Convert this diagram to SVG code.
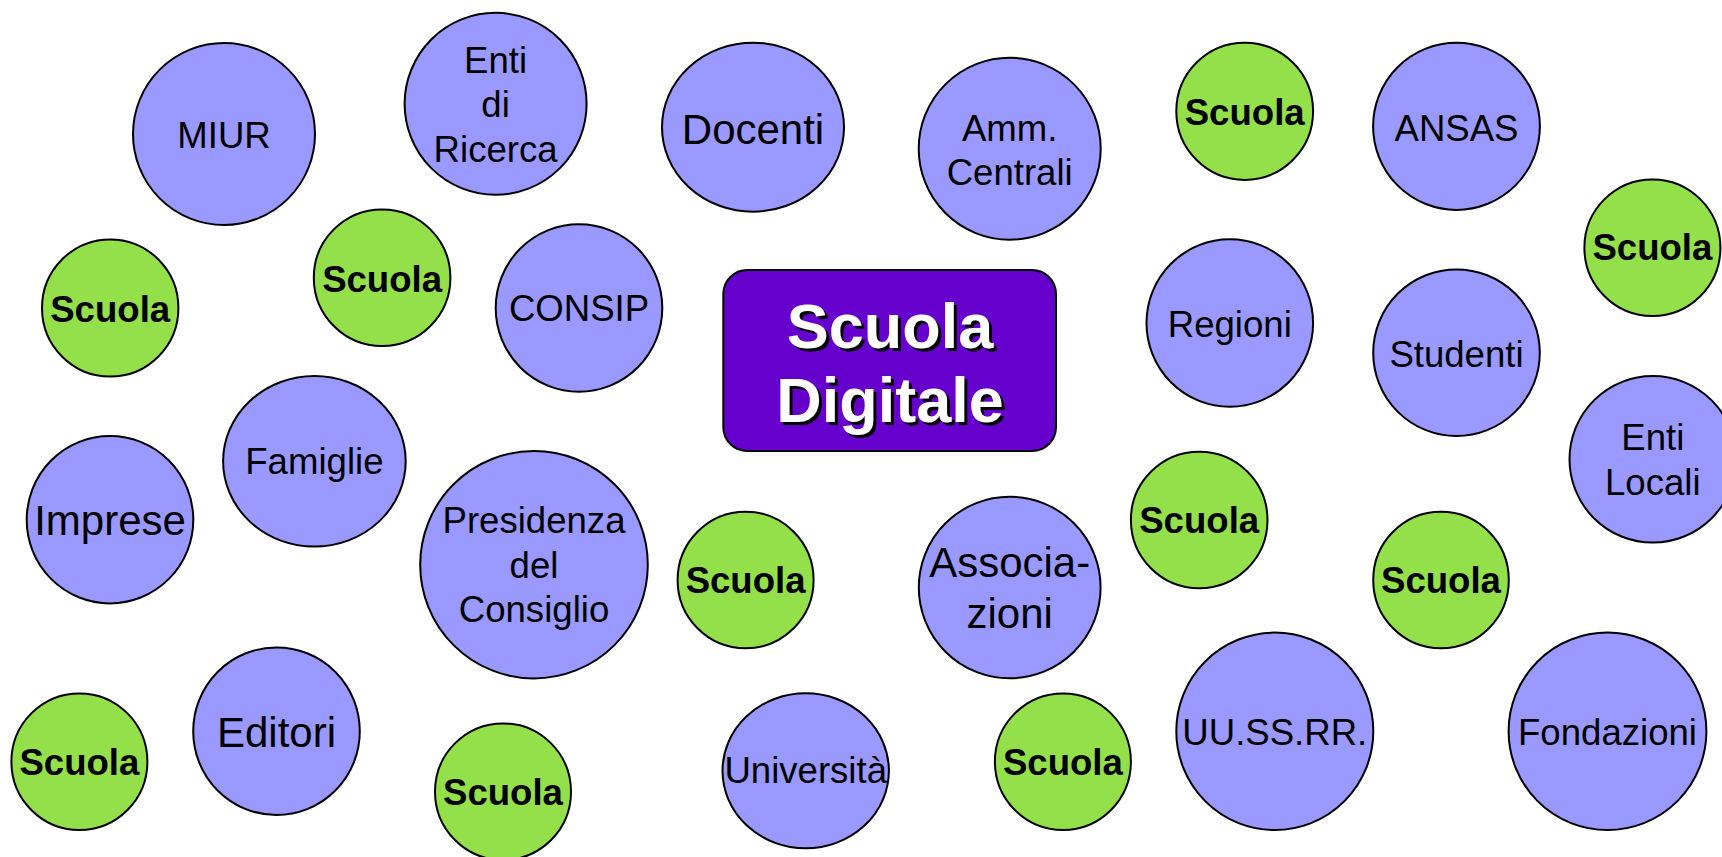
<svg xmlns="http://www.w3.org/2000/svg" width="1722" height="857" viewBox="0 0 1722 857">
<style>
.b{fill:#9999FF;stroke:#000;stroke-width:2}
.g{fill:#93E04A;stroke:#000;stroke-width:2}
.t{font-family:"Liberation Sans",Arial,sans-serif;font-size:36.6px;text-anchor:middle;fill:#000}
.big{font-size:42px}
.s{font-weight:bold}
.c{font-family:"Liberation Sans",Arial,sans-serif;font-size:63px;font-weight:bold;text-anchor:middle}
</style>
<rect width="1722" height="857" fill="#fff"/>
<g id="connectors"/>
<g id="miur"><ellipse class="b" cx="224" cy="134" rx="91" ry="91"/><text class="t" x="224" y="148.3">MIUR</text></g>
<g id="enti-ricerca"><ellipse class="b" cx="495.6" cy="103.8" rx="91" ry="91"/><text class="t" x="495.6" y="72.7">Enti</text><text class="t" x="495.6" y="117.3">di</text><text class="t" x="495.6" y="162.3">Ricerca</text></g>
<g id="docenti"><ellipse class="b" cx="753" cy="127.2" rx="91" ry="84.5"/><text class="t big" x="753" y="144">Docenti</text></g>
<g id="amm-centrali"><ellipse class="b" cx="1009.7" cy="148.7" rx="91" ry="91"/><text class="t" x="1009.7" y="140.7">Amm.</text><text class="t" x="1009.7" y="185">Centrali</text></g>
<g id="scuola-1"><ellipse class="g" cx="1244.7" cy="111.3" rx="68.4" ry="68.6"/><text class="t s" x="1244.7" y="125">Scuola</text></g>
<g id="ansas"><ellipse class="b" cx="1456.5" cy="126.3" rx="83.4" ry="83.6"/><text class="t" x="1456.5" y="140.7">ANSAS</text></g>
<g id="scuola-2"><ellipse class="g" cx="1652.4" cy="247.7" rx="68" ry="68.3"/><text class="t s" x="1652.4" y="260">Scuola</text></g>
<g id="scuola-3"><ellipse class="g" cx="110.2" cy="308" rx="68.2" ry="68.6"/><text class="t s" x="110.2" y="321.7">Scuola</text></g>
<g id="scuola-4"><ellipse class="g" cx="382.1" cy="277.7" rx="68.3" ry="68.3"/><text class="t s" x="382.1" y="291.7">Scuola</text></g>
<g id="consip"><ellipse class="b" cx="579" cy="308" rx="83.3" ry="83.7"/><text class="t" x="579" y="321">CONSIP</text></g>
<g id="scuola-digitale"><rect x="723.3" y="270" width="332.7" height="181" rx="24" ry="24" fill="#6600CC" stroke="#000" stroke-width="2"/><text class="c" x="893" y="350.7" fill="#000">Scuola</text><text class="c" x="893" y="425" fill="#000">Digitale</text><text class="c" x="890" y="347.7" fill="#fff">Scuola</text><text class="c" x="890" y="422" fill="#fff">Digitale</text></g>
<g id="regioni"><ellipse class="b" cx="1229.8" cy="323" rx="83.3" ry="83.7"/><text class="t" x="1229.8" y="336.7">Regioni</text></g>
<g id="studenti"><ellipse class="b" cx="1456.5" cy="352.7" rx="83.3" ry="83.3"/><text class="t" x="1456.5" y="366.7">Studenti</text></g>
<g id="enti-locali"><ellipse class="b" cx="1652.8" cy="459.3" rx="83.3" ry="83.3"/><text class="t" x="1652.8" y="450">Enti</text><text class="t" x="1652.8" y="495">Locali</text></g>
<g id="imprese"><ellipse class="b" cx="110" cy="519.7" rx="83.3" ry="83.7"/><text class="t big" x="110" y="535">Imprese</text></g>
<g id="famiglie"><ellipse class="b" cx="314.4" cy="461.3" rx="91.3" ry="85.3"/><text class="t" x="314.4" y="474">Famiglie</text></g>
<g id="presidenza"><ellipse class="b" cx="534" cy="564.7" rx="113.8" ry="113.7"/><text class="t" x="534" y="533.3">Presidenza</text><text class="t" x="534" y="578">del</text><text class="t" x="534" y="622">Consiglio</text></g>
<g id="scuola-5"><ellipse class="g" cx="745.6" cy="580" rx="68" ry="68.3"/><text class="t s" x="745.6" y="593.3">Scuola</text></g>
<g id="associazioni"><ellipse class="b" cx="1009.7" cy="587.5" rx="90.9" ry="90.8"/><text class="t big" x="1009.7" y="576.7">Associa-</text><text class="t big" x="1009.7" y="628.3">zioni</text></g>
<g id="scuola-6"><ellipse class="g" cx="1199.2" cy="520" rx="68.3" ry="68.3"/><text class="t s" x="1199.2" y="533.3">Scuola</text></g>
<g id="scuola-7"><ellipse class="g" cx="1441" cy="580" rx="67.8" ry="68.3"/><text class="t s" x="1441" y="593.3">Scuola</text></g>
<g id="scuola-8"><ellipse class="g" cx="79.4" cy="761.7" rx="68" ry="68.3"/><text class="t s" x="79.4" y="775">Scuola</text></g>
<g id="editori"><ellipse class="b" cx="276.5" cy="731.2" rx="83.3" ry="83.8"/><text class="t big" x="276.5" y="746.7">Editori</text></g>
<g id="scuola-9"><ellipse class="g" cx="503" cy="791.7" rx="68" ry="68.3"/><text class="t s" x="503" y="805">Scuola</text></g>
<g id="universita"><ellipse class="b" cx="805.7" cy="770.8" rx="83.2" ry="77.5"/><text class="t" x="805.7" y="783.3">Università</text></g>
<g id="scuola-10"><ellipse class="g" cx="1062.9" cy="761.7" rx="68" ry="68.3"/><text class="t s" x="1062.9" y="775">Scuola</text></g>
<g id="uussrr"><ellipse class="b" cx="1274.8" cy="731.3" rx="98.5" ry="98.7"/><text class="t" x="1274.8" y="745">UU.SS.RR.</text></g>
<g id="fondazioni"><ellipse class="b" cx="1607.5" cy="731.3" rx="98.9" ry="98.7"/><text class="t" x="1607.5" y="745">Fondazioni</text></g>
</svg>
